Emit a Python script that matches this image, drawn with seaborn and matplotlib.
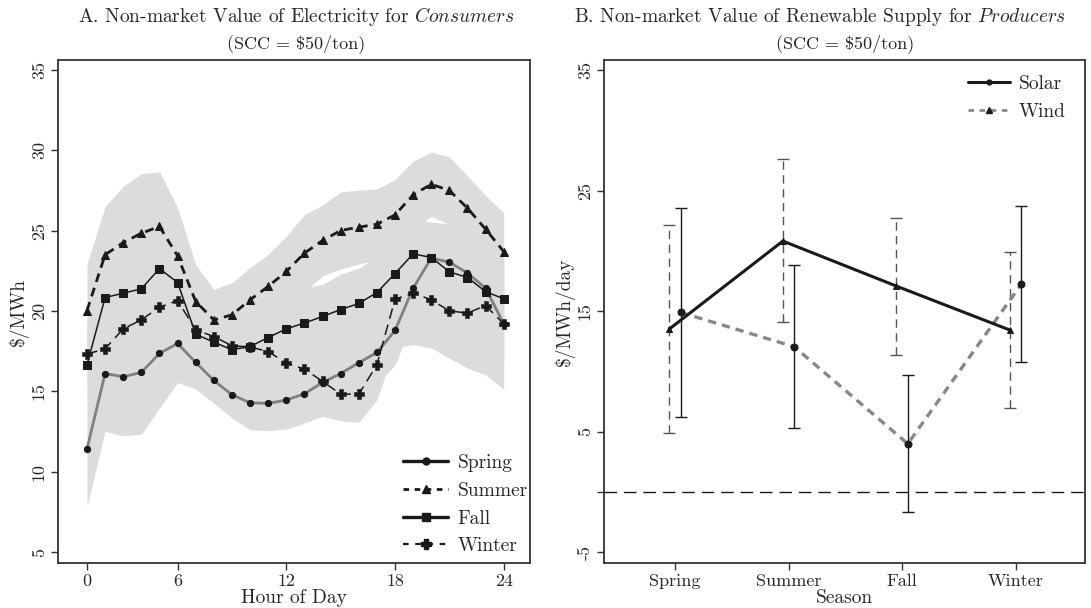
import matplotlib
matplotlib.use("Agg")
import matplotlib.pyplot as plt
from matplotlib.lines import Line2D
import seaborn as sns
import numpy as np

# ---------------- data: panel A ----------------
hours = list(range(1, 25))
hour_ticks = [1, 6, 12, 18, 24]
hour_tick_labels = ["0", "6", "12", "18", "24"]

spring = [11.41, 16.11, 15.91, 16.18, 17.36, 17.98, 16.80, 15.68, 14.79, 14.29, 14.25, 14.46,
          14.85, 15.55, 16.11, 16.78, 17.42, 18.79, 21.42, 23.29, 23.04, 22.36, 21.42, 19.20]
summer = [20.03, 23.50, 24.26, 24.84, 25.26, 23.43, 20.59, 19.45, 19.76, 20.70, 21.53, 22.46,
          23.60, 24.39, 25.01, 25.22, 25.40, 25.98, 27.23, 27.89, 27.50, 26.40, 25.09, 23.70]
fall = [16.65, 20.84, 21.11, 21.38, 22.64, 21.77, 18.56, 18.06, 17.59, 17.79, 18.35, 18.89,
        19.25, 19.66, 20.09, 20.47, 21.15, 22.33, 23.56, 23.33, 22.44, 22.08, 21.21, 20.76]
winter = [17.32, 17.65, 18.89, 19.45, 20.24, 20.65, 18.83, 18.41, 17.84, 17.76, 17.48, 16.76,
          16.39, 15.62, 14.83, 14.83, 16.65, 20.74, 21.11, 20.70, 20.01, 19.87, 20.34, 19.20]

# confidence-band half widths (estimated)
spring_ci = [3.57, 3.60, 3.67, 3.84, 3.40, 2.43, 1.66, 1.41, 1.45, 1.68, 1.70, 1.80,
             1.82, 2.10, 2.00, 2.00, 2.00, 2.14, 2.00, 2.00, 2.00, 2.00, 2.00, 2.40]
summer_ci = [2.90, 3.00, 3.50, 3.70, 3.40, 3.00, 2.30, 1.90, 2.00, 2.00, 2.00, 2.20,
             2.40, 2.20, 2.40, 2.30, 2.20, 2.20, 2.10, 2.00, 2.10, 2.00, 2.10, 2.40]
fall_ci = [2.20, 2.20, 2.20, 2.20, 2.20, 2.20, 2.20, 2.20, 2.20, 2.20, 2.20, 2.20,
           2.20, 2.00, 2.20, 2.20, 2.20, 2.20, 2.20, 2.20, 3.00, 2.50, 2.20, 2.20]
winter_ci = [2.00, 2.00, 2.00, 2.00, 2.00, 2.00, 1.80, 1.80, 1.80, 1.80, 1.80, 1.80,
             1.80, 2.18, 1.66, 1.76, 2.17, 3.00, 3.20, 3.00, 2.94, 3.42, 4.31, 4.06]

# ---------------- data: panel B ----------------
seasons = ["Spring", "Summer", "Fall", "Winter"]
solar = [13.51, 20.81, 17.07, 13.42]
solar_lo = [4.85, 14.06, 11.35, 6.92]
solar_hi = [22.14, 27.59, 22.70, 19.92]
wind = [14.89, 12.04, 3.99, 17.24]
wind_lo = [6.23, 5.32, -1.65, 10.77]
wind_hi = [23.57, 18.82, 9.66, 23.71]

# ---------------- style ----------------
sns.set_theme(style="white")
plt.rcParams["font.family"] = ["cmr10", "DejaVu Serif"]
plt.rcParams["mathtext.fontset"] = "cm"
plt.rcParams["axes.unicode_minus"] = False
plt.rcParams["axes.formatter.use_mathtext"] = True

W, H = 1091, 608
fig = plt.figure(figsize=(W / 100, H / 100), dpi=100)
axA = fig.add_axes([58 / W, (H - 563) / H, (530 - 58) / W, (563 - 60) / H])
axB = fig.add_axes([604 / W, (H - 563) / H, (1085 - 604) / W, (563 - 60) / H])

dark = "#1a1a1a"
band = "#dcdcdc"
FS = 14

# ---------------- panel A ----------------
hx = np.array(hours)
for vals, ci in [(spring, spring_ci), (summer, summer_ci), (fall, fall_ci), (winter, winter_ci)]:
    v = np.array(vals)
    c = np.array(ci)
    axA.fill_between(hx, v - c, v + c, color=band, linewidth=0, zorder=1)

sns.lineplot(x=hours, y=spring, ax=axA, color="#808080", linewidth=2.0, marker="o",
             markersize=4.5, markerfacecolor=dark, markeredgecolor=dark, zorder=3)
sns.lineplot(x=hours, y=summer, ax=axA, color=dark, linewidth=2.0, marker="^",
             markersize=5.5, markerfacecolor=dark, markeredgecolor=dark, zorder=4)
axA.lines[-1].set_dashes([3.2, 2.2])
sns.lineplot(x=hours, y=fall, ax=axA, color=dark, linewidth=1.1, marker="s",
             markersize=5.2, markerfacecolor=dark, markeredgecolor=dark, zorder=4)
sns.lineplot(x=hours, y=winter, ax=axA, color=dark, linewidth=1.1, marker="P",
             markersize=7, markerfacecolor=dark, markeredgecolor=dark,
             markeredgewidth=0.4, zorder=4)
axA.lines[-1].set_dashes([7, 4])

axA.set_xlim(-0.6, 25.45)
axA.set_ylim(4.32, 35.62)
axA.set_xticks(hour_ticks)
axA.set_xticklabels(hour_tick_labels)
axA.set_yticks([5, 10, 15, 20, 25, 30, 35])
axA.set_yticklabels(["5", "10", "15", "20", "25", "30", "35"])
axA.set_xlabel("Hour of Day", fontsize=FS, labelpad=0)
axA.set_ylabel("$/MWh", fontsize=FS, labelpad=2)

legA = [
    Line2D([], [], color=dark, lw=2.4, marker="o", ms=5, label="Spring"),
    Line2D([], [], color=dark, lw=2.0, ls=(0, (2.0, 2.0)), marker="^", ms=6, label="Summer"),
    Line2D([], [], color=dark, lw=2.4, marker="s", ms=5.5, label="Fall"),
    Line2D([], [], color=dark, lw=1.6, ls=(0, (2.5, 3)), marker="P", ms=7.5, label="Winter"),
]
axA.legend(handles=legA, loc="lower right", frameon=False, fontsize=FS,
           handlelength=2.3, handletextpad=0.5, labelspacing=0.5,
           borderaxespad=0.0, bbox_to_anchor=(1.012, 0.0))

# ---------------- panel B ----------------
pos = np.arange(1, 5)
ps = pos - 0.05
pw = pos + 0.05

ebS = axB.errorbar(ps, solar, yerr=[np.array(solar) - np.array(solar_lo),
                                    np.array(solar_hi) - np.array(solar)],
                   fmt="none", ecolor="#555555", elinewidth=1.0, capsize=4, capthick=1.0,
                   zorder=2)
ebS[2][0].set_linestyle((0, (6, 4)))
ebW = axB.errorbar(pw, wind, yerr=[np.array(wind) - np.array(wind_lo),
                                   np.array(wind_hi) - np.array(wind)],
                   fmt="none", ecolor=dark, elinewidth=1.0, capsize=4, capthick=1.0,
                   zorder=2)

sns.lineplot(x=ps, y=solar, ax=axB, color=dark, linewidth=2.2, marker="^",
             markersize=4.5, markerfacecolor=dark, markeredgecolor=dark, zorder=4)
sns.lineplot(x=pw, y=wind, ax=axB, color="#888888", linewidth=2.4, marker="o",
             markersize=5, markerfacecolor=dark, markeredgecolor=dark, zorder=3)
axB.lines[-1].set_dashes([2.5, 1.8])

axB.axhline(0, color=dark, linewidth=1.0, dashes=(9, 5), zorder=1)

axB.set_xlim(0.375, 4.61)
axB.set_ylim(-5.9, 35.83)
axB.set_xticks(pos)
axB.set_xticklabels(seasons)
axB.set_yticks([-5, 0, 5, 15, 25, 35])
axB.set_yticklabels(["-5", "", "5", "15", "25", "35"])
axB.set_xlabel("Season", fontsize=FS, labelpad=0)
axB.set_ylabel("$/MWh/day", fontsize=FS, labelpad=2)

legB = [
    Line2D([], [], color=dark, lw=2.2, marker="o", ms=3.5, label="Solar"),
    Line2D([], [], color="#888888", lw=2.0, ls=(0, (2.0, 2.0)), marker="^", ms=5,
           markerfacecolor=dark, markeredgecolor=dark, label="Wind"),
]
axB.legend(handles=legB, loc="upper right", frameon=False, fontsize=FS,
           handlelength=2.15, handletextpad=0.45, labelspacing=0.55,
           borderaxespad=0.35, bbox_to_anchor=(0.99, 1.0))

for ax in (axA, axB):
    for s in ax.spines.values():
        s.set_color("#333333")
        s.set_linewidth(1.3)
    ax.tick_params(axis="both", which="both", direction="out", length=5, width=1.0,
                   color="#333333", labelsize=FS - 1, left=True, bottom=True, pad=3)
    plt.setp(ax.get_yticklabels(), rotation=90, va="center")
    ax.grid(False)

# ---------------- titles ----------------
fig.text(296 / W, 1 - 17 / H, r"A. Non-market Value of Electricity for $\mathit{Consumers}$",
         ha="center", va="center", fontsize=FS)
fig.text(296 / W, 1 - 44 / H, "(SCC = $50/ton)", ha="center", va="center", fontsize=FS - 1)
fig.text(820 / W, 1 - 17 / H, r"B. Non-market Value of Renewable Supply for $\mathit{Producers}$",
         ha="center", va="center", fontsize=FS)
fig.text(845 / W, 1 - 44 / H, "(SCC = $50/ton)", ha="center", va="center", fontsize=FS - 1)

fig.savefig("out.png", dpi=100, facecolor="white")
